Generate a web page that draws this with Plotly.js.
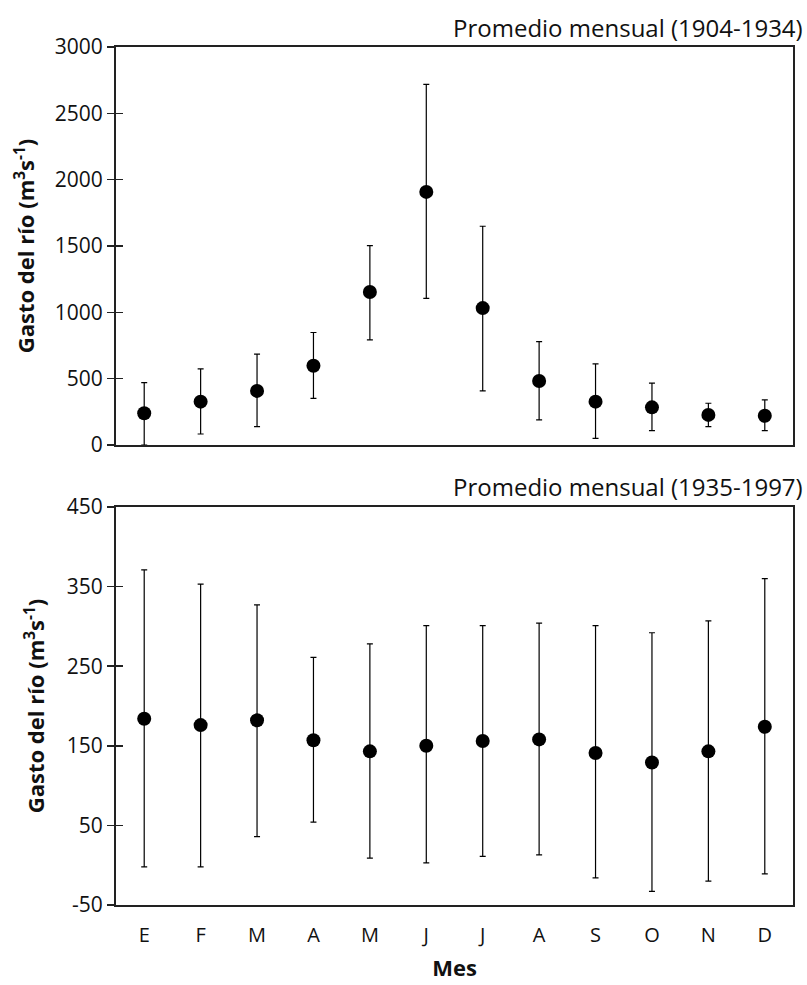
<!DOCTYPE html>
<html>
<head>
<meta charset="utf-8">
<script src="https://cdn.plot.ly/plotly-3.0.1.min.js"></script>
<style>html,body{margin:0;padding:0;background:#fff;}#chart{width:807px;height:985px;}</style>
</head>
<body>
<div id="chart"></div>
<script>
const months = ["E","F","M","A","M","J","J","A","S","O","N","D"];
const monthIdx = [0,1,2,3,4,5,6,7,8,9,10,11];

// Promedio mensual (1904-1934)
const mean1 = [239, 327, 408, 597, 1153, 1908, 1032, 483, 327, 284, 227, 221];
const upper1 = [471, 574, 685, 848, 1503, 2718, 1649, 780, 612, 466, 315, 340];
const lower1 = [0, 83, 138, 352, 793, 1105, 408, 189, 50, 108, 138, 108];

// Promedio mensual (1935-1997)
const mean2 = [184, 176, 182, 157, 143, 150, 156, 158, 141, 129, 143, 174];
const upper2 = [371, 353, 327, 261, 278, 301, 301, 304, 301, 292, 307, 360];
const lower2 = [-2, -2, 36, 54, 9, 3, 11, 13, -16, -33, -20, -11];

const ticks1 = [0, 500, 1000, 1500, 2000, 2500, 3000];
const tickText1 = ["0", "500", "1000", "1500", "2000", "2500", "3000"];
const ticks2 = [-50, 50, 150, 250, 350, 450];
const tickText2 = ["-50", "50", "150", "250", "350", "450"];

const titleTop = "Promedio mensual (1904-1934)";
const titleBottom = "Promedio mensual (1935-1997)";
const yTitle = "Gasto del río (m<sup>3</sup>s<sup>-1</sup>)";
const xTitle = "Mes";

const plus = (u, m) => u.map((v, i) => v - m[i]);
const minus = (l, m) => l.map((v, i) => m[i] - v);

const FONT = "Open Sans";
const marker = {color: "#000", size: 14, symbol: "circle"};
const errStyle = {type: "data", symmetric: false, color: "#000", thickness: 1.2, width: 3};

const traces = [
  {x: monthIdx, y: mean1, type: "scatter", mode: "markers", xaxis: "x2", yaxis: "y",
   marker: marker,
   error_y: Object.assign({array: plus(upper1, mean1), arrayminus: minus(lower1, mean1)}, errStyle)},
  {x: monthIdx, y: mean2, type: "scatter", mode: "markers", xaxis: "x", yaxis: "y2",
   marker: marker,
   error_y: Object.assign({array: plus(upper2, mean2), arrayminus: minus(lower2, mean2)}, errStyle)}
];

const topDom = [0.5361, 1];
const botDom = [0, 0.4639];

const axLine = {showline: true, linecolor: "#222", linewidth: 2, mirror: true, showgrid: false, zeroline: false};
const tickFont = {family: FONT, size: 21, color: "#111"};
const yTitleFont = {family: FONT, size: 22, color: "#111"};

const layout = {
  width: 807, height: 985,
  margin: {l: 116, r: 14, t: 47, b: 80},
  paper_bgcolor: "#fff", plot_bgcolor: "#fff",
  showlegend: false,
  font: {family: FONT, color: "#111", size: 21},
  xaxis: Object.assign({}, axLine, {
    domain: [0, 1], anchor: "y2", range: [-0.5, 11.5],
    tickvals: monthIdx, ticktext: months, ticks: "", ticklabelstandoff: 11,
    tickfont: {family: FONT, size: 20, color: "#111"},
    title: {text: "<b>" + xTitle + "</b>", font: {family: FONT, size: 22, color: "#111"}, standoff: 14}
  }),
  xaxis2: Object.assign({}, axLine, {
    domain: [0, 1], anchor: "y", range: [-0.5, 11.5],
    tickvals: monthIdx, showticklabels: false, ticks: ""
  }),
  yaxis: Object.assign({}, axLine, {
    domain: topDom, anchor: "x2", range: [0, 3000],
    tickvals: ticks1, ticktext: tickText1, ticks: "outside", ticklen: 7, tickwidth: 1.5, tickcolor: "#222",
    tickfont: tickFont,
    title: {text: "<b>" + yTitle + "</b>", font: yTitleFont, standoff: 14}
  }),
  yaxis2: Object.assign({}, axLine, {
    domain: botDom, anchor: "x", range: [-50, 450],
    tickvals: ticks2, ticktext: tickText2, ticks: "outside", ticklen: 7, tickwidth: 1.5, tickcolor: "#222",
    tickfont: tickFont,
    title: {text: "<b>" + yTitle + "</b>", font: yTitleFont, standoff: 16}
  }),
  yaxis3: {overlaying: "y", anchor: "x2", range: [0, 3000], tickvals: ticks1, ticks: "inside",
    ticklen: 7, tickwidth: 1.5, tickcolor: "#222", showticklabels: false, showgrid: false, zeroline: false, showline: false},
  yaxis4: {overlaying: "y2", anchor: "x", range: [-50, 450], tickvals: ticks2, ticks: "inside",
    ticklen: 7, tickwidth: 1.5, tickcolor: "#222", showticklabels: false, showgrid: false, zeroline: false, showline: false},
  annotations: [
    {text: titleTop, xref: "paper", yref: "paper", x: 1.0177, y: 1.0233, xanchor: "right", yanchor: "middle",
     showarrow: false, font: {family: FONT, size: 24, color: "#111"}},
    {text: titleBottom, xref: "paper", yref: "paper", x: 1.0177, y: 0.4872, xanchor: "right", yanchor: "middle",
     showarrow: false, font: {family: FONT, size: 24, color: "#111"}}
  ]
};

traces.push({x: [null], y: [null], xaxis: "x2", yaxis: "y3", type: "scatter", mode: "markers", hoverinfo: "skip"});
traces.push({x: [null], y: [null], xaxis: "x", yaxis: "y4", type: "scatter", mode: "markers", hoverinfo: "skip"});

Plotly.newPlot("chart", traces, layout, {displayModeBar: false, staticPlot: true});
</script>
</body>
</html>
